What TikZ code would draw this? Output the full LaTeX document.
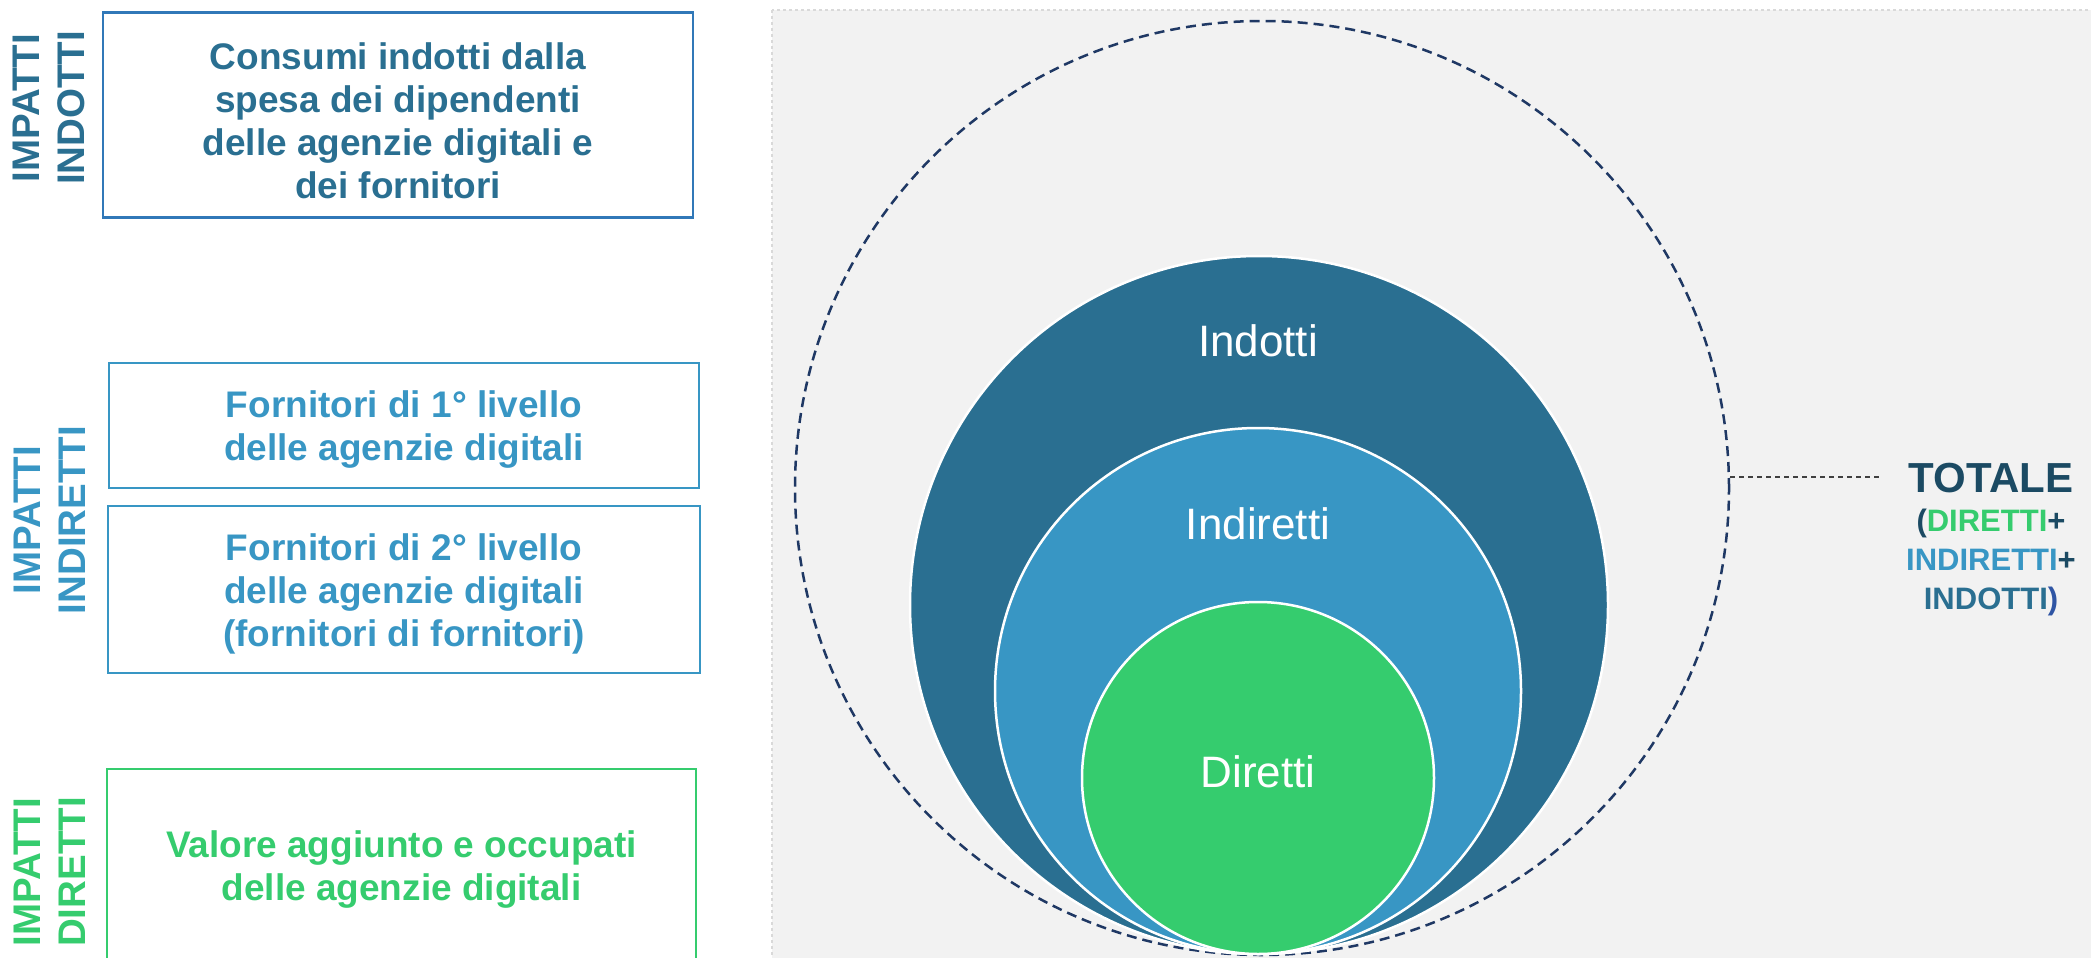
\documentclass[tikz,border=0pt]{standalone}
\usepackage{fontspec}
\setmainfont{Liberation Sans}
\usetikzlibrary{positioning}

\definecolor{indcol}{HTML}{2A6F91}
\definecolor{indframe}{HTML}{3178B8}
\definecolor{indircol}{HTML}{3896C4}
\definecolor{dircol}{HTML}{35CC6E}
\definecolor{totcol}{HTML}{1B4A63}
\definecolor{navy}{HTML}{1F3864}
\definecolor{parcol}{HTML}{2F55A4}
\definecolor{panel}{HTML}{F2F2F2}
\definecolor{panelframe}{HTML}{D9D9D9}

\tikzset{
  impbox/.style={draw, line width=2.2pt, minimum width=590pt, align=center, inner sep=0pt,
    text depth=0pt, font=\fontsize{37}{43}\selectfont\bfseries},
  sidelabel/.style={rotate=90, align=center, inner sep=0pt,
    font=\fontsize{38.5}{45}\selectfont\bfseries},
  ring/.style={circle, draw=white, line width=2.5pt, inner sep=0pt},
  ringtext/.style={text=white, inner sep=0pt, font=\fontsize{44}{50}\selectfont},
}

\begin{document}
\begin{tikzpicture}[x=1pt, y=-1pt]
  \useasboundingbox (0,0) rectangle (2091,958);
  \clip (0,0) rectangle (2091,958);

  % grey panel behind the circles
  \draw[panelframe, fill=panel, dashed, line width=2pt] (772,10) rectangle (2110,980);

  % left column: boxes
  \node[impbox, draw=indframe, text=indcol, minimum height=205pt] (bindotti) at (398,115)
    {\rule{0pt}{38pt}Consumi indotti dalla\\spesa dei dipendenti\\delle agenzie digitali e\\dei fornitori};
  \node[impbox, draw=indircol, text=indircol, minimum height=125pt] (bforn1) at (404,425.5)
    {Fornitori di 1° livello\\delle agenzie digitali};
  \node[impbox, draw=indircol, text=indircol, minimum height=167pt, minimum width=592pt,
    below=16pt of bforn1] (bforn2)
    {Fornitori di 2° livello\\delle agenzie digitali\\(fornitori di fornitori)};
  \node[impbox, draw=dircol, text=dircol, minimum height=194pt, minimum width=589pt] (bdiretti) at (401.5,866)
    {Valore aggiunto e occupati\\delle agenzie digitali};

  % left column: rotated labels
  \node[sidelabel, text=indcol] (lindotti) at (49,108) {IMPATTI\\INDOTTI};
  \node[sidelabel, text=indircol] (lindiretti) at (50,520) {IMPATTI\\INDIRETTI};
  \node[sidelabel, text=dircol] (ldiretti) at (50,872) {IMPATTI\\DIRETTI};

  % nested circles
  \node[circle, draw=navy, dashed, line width=2.5pt, dash pattern=on 10pt off 6pt,
    minimum size=934pt, inner sep=0pt] (outer) at (1262,488) {};
  \node[ring, fill=indcol, minimum size=698pt] (cindotti) at (1259,605) {};
  \node[ring, fill=indircol, minimum size=526pt] (cindiretti) at (1258,691) {};
  \node[ring, fill=dircol, minimum size=352pt] (cdiretti) at (1258,778) {};
  \node[ringtext] (tindotti) at (1258,341) {Indotti};
  \node[ringtext] (tindiretti) at (1258,524) {Indiretti};
  \node[ringtext] (tdiretti) at (1258,772) {Diretti};

  % total label
  \node[align=center, inner sep=0pt, anchor=north, text=totcol,
    font=\fontsize{31}{39}\selectfont\bfseries] (totale) at (1991,463)
    {{\fontsize{42}{42}\selectfont TOTALE}\\
     (\textcolor{dircol}{DIRETTI}+\\
     \textcolor{indircol}{INDIRETTI}+\\
     \textcolor{indcol}{INDOTTI}\textcolor{parcol}{)}};
  \coordinate (totend) at (1883,477);
  \draw[black!75, line width=1.2pt, dash pattern=on 5pt off 4pt] (outer.east |- totend) -- (totend);
\end{tikzpicture}
\end{document}
